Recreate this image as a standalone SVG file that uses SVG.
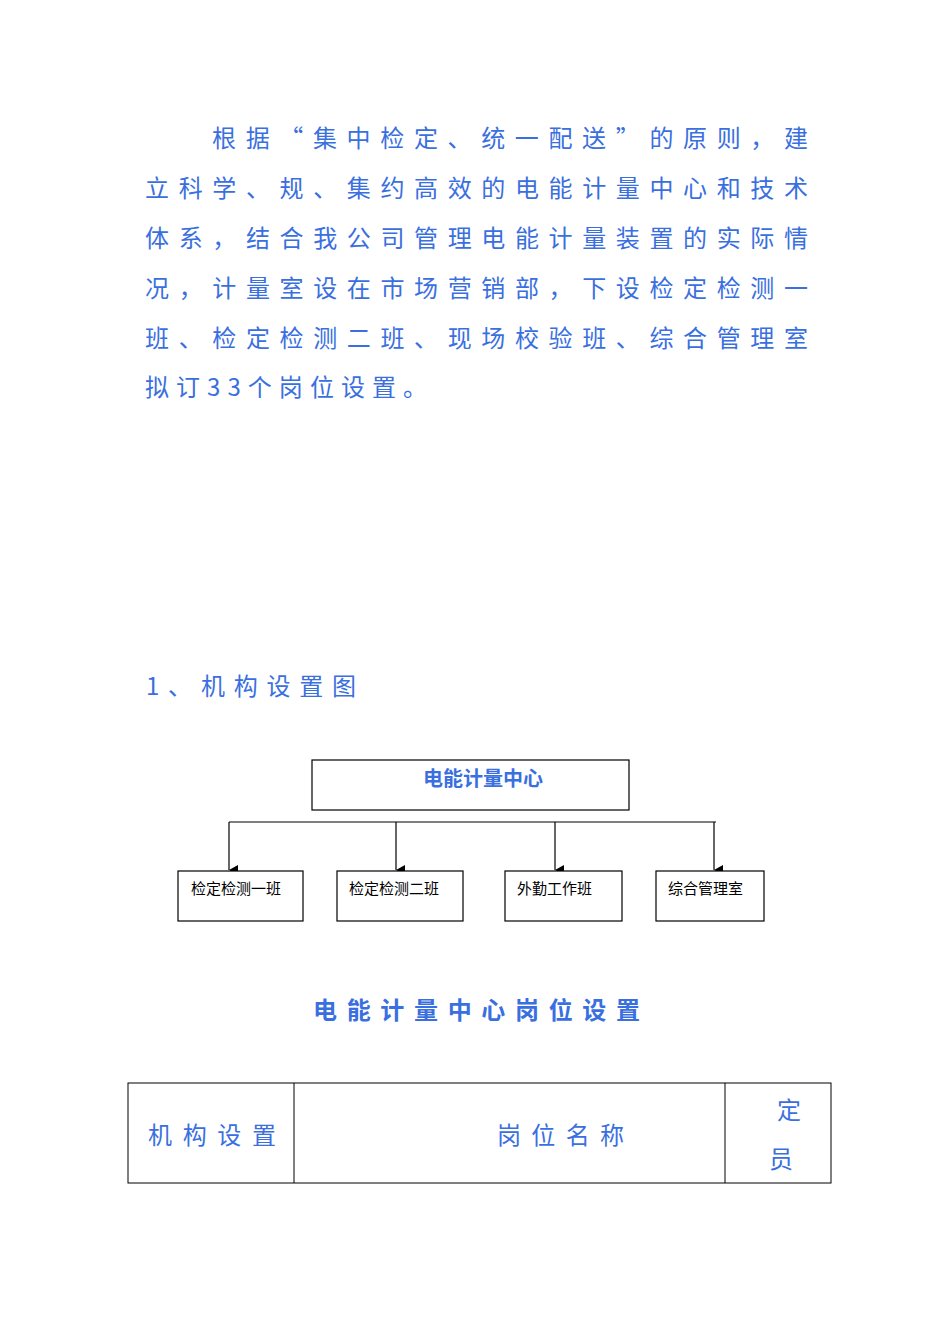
<svg xmlns="http://www.w3.org/2000/svg" width="950" height="1344" viewBox="0 0 950 1344">
<style>
.p{font-family:"Noto Sans CJK SC","DejaVu Sans",sans-serif;font-size:24px;fill:#3a6fe0}
.b{fill:#fff;stroke:#000;stroke-width:1.2}
.s{font-family:"Liberation Serif","Noto Sans CJK SC",serif;font-size:15px;fill:#000}
.h{font-family:"Noto Sans CJK SC",sans-serif;font-weight:bold;fill:#3a6fe0}
</style>
<defs><marker id="a" markerWidth="10" markerHeight="10" refX="5" refY="9" orient="auto" markerUnits="userSpaceOnUse"><path d="M0,0 L10,0 L5,9 Z" fill="#000"/></marker></defs>
<rect width="950" height="1344" fill="#fff"/>
<g id="para">
<text class="p" x="212" y="147" textLength="596" lengthAdjust="spacing">根据“集中检定、统一配送”的原则，建</text>
<text class="p" x="145" y="197" textLength="663" lengthAdjust="spacing">立科学、规、集约高效的电能计量中心和技术</text>
<text class="p" x="145" y="247" textLength="663" lengthAdjust="spacing">体系，结合我公司管理电能计量装置的实际情</text>
<text class="p" x="145" y="297" textLength="663" lengthAdjust="spacing">况，计量室设在市场营销部，下设检定检测一</text>
<text class="p" x="145" y="347" textLength="663" lengthAdjust="spacing">班、检定检测二班、现场校验班、综合管理室</text>
<text class="p" x="145" y="396" textLength="282" lengthAdjust="spacing">拟订33个岗位设置。</text>
<text class="p" x="146" y="695" textLength="210" lengthAdjust="spacing">1、机构设置图</text>
</g>
<g id="top"><rect class="b" x="312" y="760" width="317" height="50"/><text class="h" x="483" y="786" font-size="20" text-anchor="middle">电能计量中心</text></g>
<g id="conn" stroke="#000" stroke-width="1.2" fill="none">
<path d="M229,822 H716"/>
<path d="M229,822 V870" marker-end="url(#a)"/>
<path d="M396,822 V870" marker-end="url(#a)"/>
<path d="M555,822 V870" marker-end="url(#a)"/>
<path d="M714,822 V870" marker-end="url(#a)"/>
</g>
<g id="n1"><rect class="b" x="178" y="871" width="125" height="50"/><text class="s" x="191" y="894">检定检测一班</text></g>
<g id="n2"><rect class="b" x="337" y="871" width="126" height="50"/><text class="s" x="349" y="894">检定检测二班</text></g>
<g id="n3"><rect class="b" x="505" y="871" width="117" height="50"/><text class="s" x="517" y="894">外勤工作班</text></g>
<g id="n4"><rect class="b" x="656" y="871" width="108" height="50"/><text class="s" x="668" y="894">综合管理室</text></g>
<text class="h" x="313" y="1019" font-size="24" textLength="327" lengthAdjust="spacing">电能计量中心岗位设置</text>
<g id="table">
<rect x="128" y="1083" width="703" height="100" fill="none" stroke="#000" stroke-width="1"/>
<path d="M294,1083 V1183 M725,1083 V1183" stroke="#000" stroke-width="1"/>
<text class="p" x="148" y="1144" textLength="128" lengthAdjust="spacing">机构设置</text>
<text class="p" x="497" y="1144" textLength="127" lengthAdjust="spacing">岗位名称</text>
<text class="p" x="777" y="1119">定</text>
<text class="p" x="769" y="1168">员</text>
</g>
</svg>
